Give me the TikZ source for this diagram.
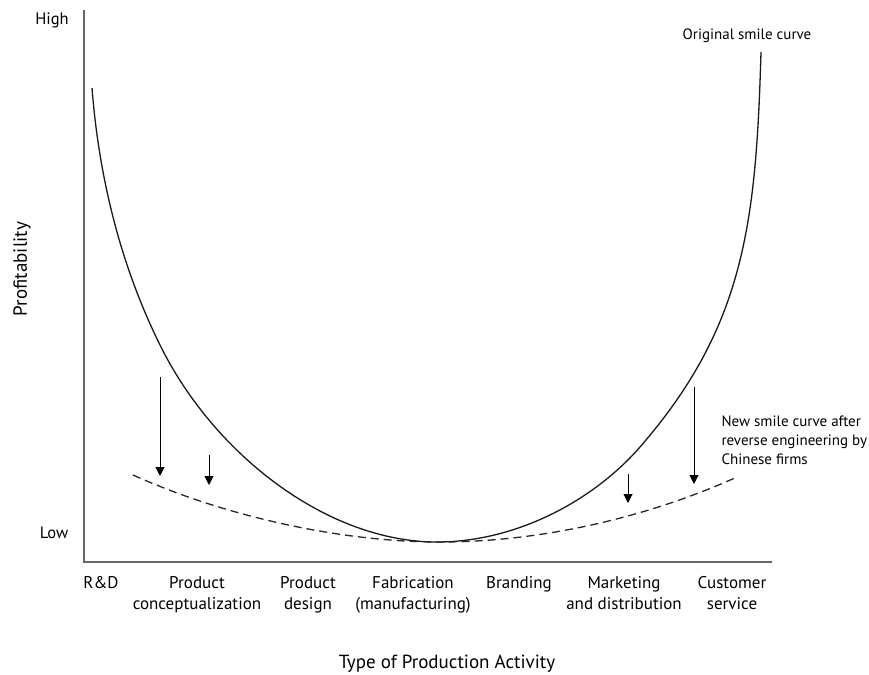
\documentclass[tikz,border=0pt]{standalone}
\usepackage{fontspec}
\setmainfont{PT Sans}
\usetikzlibrary{arrows.meta}

\tikzset{
  axis/.style={draw=gray!80!black, line width=1.3pt},
  smile/.style={draw=black!90, line width=1.3pt},
  newsmile/.style={draw=black!85, line width=1.3pt, dash pattern=on 8pt off 5pt},
  drop/.style={->, draw=black, line width=1pt},
  activity/.style={align=center, anchor=north, inner sep=0pt, font=\fontsize{17}{21}\selectfont},
  curvelabel/.style={font=\fontsize{15}{19}\selectfont}
}

\begin{document}
\begin{tikzpicture}[x=1pt,y=-1pt,>={Triangle[length=9pt,width=9pt]},font=\fontsize{16.5}{20}\selectfont]
                \useasboundingbox (0,0) rectangle (869,674);
                % axes
                \coordinate (top) at (84,10);
                \coordinate (origin) at (84,562);
                \coordinate (end) at (772,562);
                \draw[axis] (top) -- (origin) -- (end);

                \node (high) at (52,20) {High};
                \node (low) at (54,533) {Low};
                \node[rotate=90, font=\fontsize{19}{22}\selectfont] (profit) at (22,269) {Profitability};

                % activities
                \node[activity] (rd) at (101,576) {R\&D};
                \node[activity] (concept) at (197,576) {Product\\conceptualization};
                \node[activity] (design) at (308,576) {Product\\design};
                \node[activity] (fab) at (413,576) {Fabrication\\(manufacturing)};
                \node[activity] (brand) at (519,576) {Branding};
                \node[activity] (market) at (624,576) {Marketing\\and distribution};
                \node[activity] (service) at (732,576) {Customer\\service};
                \node[font=\fontsize{19}{22}\selectfont] (xlabel) at (447,664) {Type of Production Activity};

                % curves
                \coordinate (s0) at (92,88);
                \coordinate (s1) at (161,347);
                \coordinate (s2) at (437,542);
                \coordinate (s3) at (640,447);
                \coordinate (s4) at (761,52);
                \draw[smile] (s0) .. controls (99,178) and (120.8,266.5) .. (s1)
                                  .. controls (214.6,454.3) and (327,542) .. (s2)
                                  .. controls (517,542) and (594,499.9) .. (s3)
                                  .. controls (745,326.2) and (756,222) .. (s4);
                \coordinate (n0) at (133,475);
                \coordinate (n1) at (440,542);
                \coordinate (n2) at (737,477);
                \draw[newsmile] (n0) .. controls (224,516) and (340,542) .. (n1)
                                     .. controls (540,542) and (646,518) .. (n2);

                \node[curvelabel] (orig) at (747,36) {Original smile curve};
                \node[curvelabel, align=left, anchor=north west] (new) at (718,412) {New smile curve after\\reverse engineering by\\Chinese firms};

                % shifts
                \coordinate (a1) at (160,377);
                \coordinate (b1) at (160,476);
                \coordinate (a2) at (209,455);
                \coordinate (b2) at (209,485);
                \coordinate (a3) at (628,474);
                \coordinate (b3) at (628,503);
                \coordinate (a4) at (694,387);
                \coordinate (b4) at (694,484);
                \draw[drop] (a1) -- (b1);
                \draw[drop] (a2) -- (b2);
                \draw[drop] (a3) -- (b3);
                \draw[drop] (a4) -- (b4);
\end{tikzpicture}
\end{document}
